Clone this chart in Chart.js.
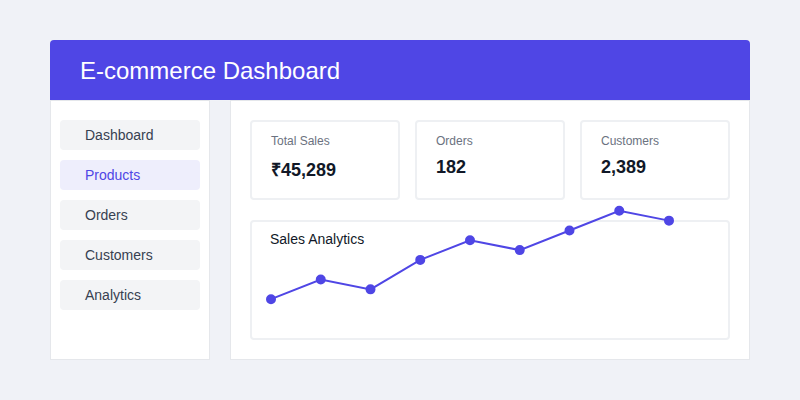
<!DOCTYPE html>
<html><head><meta charset="utf-8">
<script src="https://cdn.jsdelivr.net/npm/chart.js@4"></script>
<style>
body{margin:0;width:800px;height:400px;background:#f0f2f7;font-family:"Liberation Sans",Arial,sans-serif;position:relative;overflow:hidden}
.abs{position:absolute;box-sizing:border-box}
#hdr{left:50px;top:40px;width:700px;height:60px;background:#4f46e5;border-radius:4px 4px 0 0;color:#fff;font-size:24px;line-height:62px;padding-left:30px}
#side{left:50px;top:100px;width:160px;height:260px;background:#fff;border:1px solid #e5e7eb}
#main{left:230px;top:100px;width:520px;height:260px;background:#fff;border:1px solid #e5e7eb}
.nav{left:60px;width:140px;height:30px;background:#f3f4f6;border-radius:4px;color:#374151;font-size:14px;line-height:30px;padding-left:25px}
.nav.act{background:#eeeefc;color:#4f46e5}
.card{top:120px;width:150px;height:80px;border:2px solid #eef0f3;border-radius:4px;background:#fff;padding:12px 0 0 19px}
.card .l{font-size:12px;color:#6b7280}
.card .v{font-size:18px;font-weight:bold;color:#111827;margin-top:9px}
#cc{left:250px;top:220px;width:480px;height:120px;border:2px solid #eef0f3;border-radius:4px;background:#fff}
#ct{left:270px;top:231px;font-size:14px;color:#111827}
#cw{left:265px;top:195px;width:410px;height:120px}
</style></head><body>
<div class="abs" id="hdr">E-commerce Dashboard</div>
<div class="abs" id="side"></div>
<div class="abs" id="main"></div>
<div class="abs nav" style="top:120px">Dashboard</div>
<div class="abs nav act" style="top:160px">Products</div>
<div class="abs nav" style="top:200px">Orders</div>
<div class="abs nav" style="top:240px">Customers</div>
<div class="abs nav" style="top:280px">Analytics</div>
<div class="abs card" style="left:250px"><div class="l">Total Sales</div><div class="v">₹45,289</div></div>
<div class="abs card" style="left:415px"><div class="l">Orders</div><div class="v">182</div></div>
<div class="abs card" style="left:580px"><div class="l">Customers</div><div class="v">2,389</div></div>
<div class="abs" id="cc"></div>
<div class="abs" id="ct">Sales Analytics</div>
<div class="abs" id="cw"><canvas id="c"></canvas></div>
<script>
const labels=["1","2","3","4","5","6","7","8","9"];
const sales=[10,30,20,50,70,60,80,100,90];
new Chart(document.getElementById('c'),{type:'line',
data:{labels:labels,datasets:[{data:sales,borderColor:'#4f46e5',backgroundColor:'#4f46e5',borderWidth:2,pointRadius:4,pointHoverRadius:4,tension:0,clip:false}]},
options:{responsive:true,maintainAspectRatio:false,animation:false,layout:{padding:5},
plugins:{legend:{display:false},tooltip:{enabled:false}},
scales:{x:{display:false,offset:false},y:{display:false,min:0,max:110}}}});
</script>
</body></html>
